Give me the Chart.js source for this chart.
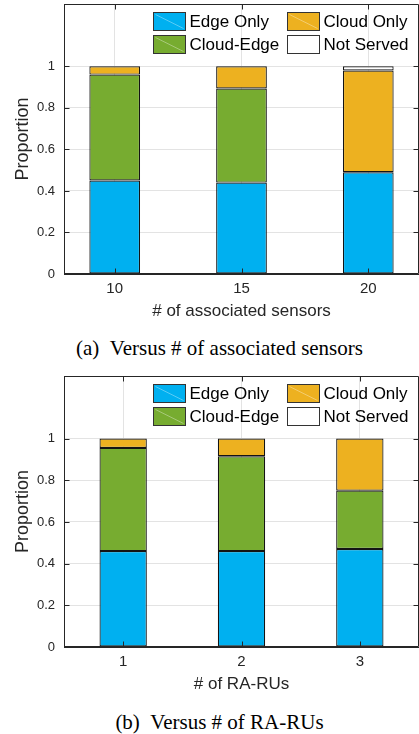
<!DOCTYPE html>
<html><head><meta charset="utf-8">
<script src="https://cdn.jsdelivr.net/npm/chart.js@4"></script>
<style>
html,body{margin:0;padding:0;background:#fff;overflow:hidden;width:419px;height:734px}
canvas{position:absolute;left:0}
#ca{top:0}
#cb{top:370px}
.cap{position:absolute;left:0;width:439px;text-align:center;font-family:"Liberation Serif","Times New Roman",serif;font-size:21px;line-height:24px;color:#000;white-space:nowrap}
</style></head><body>
<canvas id="ca" width="419" height="330"></canvas>
<canvas id="cb" width="419" height="330"></canvas>
<div class="cap" style="top:336px">(a)&ensp;Versus # of associated sensors</div>
<div class="cap" style="top:710px">(b)&ensp;Versus # of RA-RUs</div>
<script>
const seriesNames = ['Edge Only', 'Cloud-Edge', 'Cloud Only', 'Not Served'];
const seriesColors = ['#00B0F0', '#77AC30', '#EDB120', '#FFFFFF'];
const legendOrder = [0, 2, 1, 3];

const sensorLabels = ['10', '15', '20'];
const edgeA = [0.45, 0.44, 0.49];
const cloudEdgeA = [0.51, 0.453, 0.0];
const cloudA = [0.04, 0.107, 0.49];
const notServedA = [0, 0, 0.02];

const ruLabels = ['1', '2', '3'];
const edgeB = [0.46, 0.46, 0.47];
const cloudEdgeB = [0.495, 0.455, 0.28];
const cloudB = [0.045, 0.085, 0.25];
const notServedB = [0, 0, 0];

const yTicks = [0, 0.2, 0.4, 0.6, 0.8, 1];
const yMax = 1.3;

const AXIS = '#262626';
const GRID = '#e3e3e3';
const SANS = '"Liberation Sans", Arial, Helvetica, sans-serif';

const boxPlugin = {
  id: 'boxLegend',
  afterDraw(chart) {
    const {ctx, chartArea: a, scales: {x, y}} = chart;
    ctx.save();
    ctx.strokeStyle = AXIS;
    ctx.lineWidth = 1;
    const L = Math.round(a.left) + 0.5, R = Math.round(a.right) - 0.5;
    const T = Math.round(a.top) + 0.5, B = Math.round(a.bottom) - 0.5;
    ctx.beginPath();
    ctx.rect(L, T, R - L, B - T);
    x.ticks.forEach((t, i) => {
      const px = Math.round(x.getPixelForTick(i)) + 0.5;
      ctx.moveTo(px, B); ctx.lineTo(px, B - 5);
      ctx.moveTo(px, T); ctx.lineTo(px, T + 5);
    });
    y.ticks.forEach((t, i) => {
      const py = Math.round(y.getPixelForTick(i)) + 0.5;
      ctx.moveTo(L, py); ctx.lineTo(L + 5, py);
      ctx.moveTo(R, py); ctx.lineTo(R - 5, py);
    });
    ctx.stroke();

    // legend (2 x 2 grid)
    const ds = chart.data.datasets;
    const colX = [a.left + 89, a.left + 223];
    const rowY = [a.top + 8, a.top + 31];
    const sw = 32, sh = 18;
    ctx.font = '17px ' + SANS;
    ctx.textBaseline = 'middle';
    ctx.textAlign = 'left';
    legendOrder.forEach((di, k) => {
      const cx = Math.round(colX[k % 2]) + 0.5, cy = Math.round(rowY[Math.floor(k / 2)]) + 0.5;
      ctx.fillStyle = ds[di].backgroundColor;
      ctx.fillRect(cx, cy, sw, sh);
      if (di !== 3) {
        ctx.strokeStyle = 'rgba(255,255,255,0.35)';
        ctx.beginPath(); ctx.moveTo(cx + 2, cy + 2); ctx.lineTo(cx + sw - 2, cy + sh - 2); ctx.stroke();
      }
      ctx.strokeStyle = '#333333';
      ctx.strokeRect(cx, cy, sw, sh);
      ctx.fillStyle = '#000';
      ctx.fillText(ds[di].label, cx + sw + 4, cy + sh / 2 + 1);
    });
    ctx.restore();
  }
};

function makeChart(id, labels, series, xMin, xMax, xTitle, padTop, xHeight, xTitlePad) {
  const datasets = series.map((vals, si) => ({
    label: seriesNames[si],
    data: vals.map((v, i) => ({x: i + 1, y: v})),
    backgroundColor: seriesColors[si],
    borderColor: '#141414',
    borderWidth: 1.2,
    borderSkipped: false,
    barPercentage: 0.4,
    categoryPercentage: 1.0
  }));
  return new Chart(document.getElementById(id), {
    type: 'bar',
    data: {datasets},
    plugins: [boxPlugin],
    options: {
      responsive: false,
      animation: false,
      devicePixelRatio: 1,
      layout: {padding: {top: padTop, left: 0, right: 0, bottom: 0}},
      plugins: {legend: {display: false}, tooltip: {enabled: false}, title: {display: false}},
      scales: {
        x: {
          type: 'linear', stacked: true, min: xMin, max: xMax, offset: false,
          afterBuildTicks: s => { s.ticks = labels.map((l, i) => ({value: i + 1})); },
          afterFit: s => { s.height = xHeight; s.paddingLeft = 0; s.paddingRight = 0; },
          grid: {color: GRID, drawTicks: false, lineWidth: 1, offset: false},
          border: {display: true, color: AXIS},
          ticks: {color: AXIS, font: {family: SANS, size: 15}, padding: 6,
                  callback: v => labels[Math.round(v) - 1]},
          title: {display: true, text: xTitle, color: AXIS, font: {family: SANS, size: 17},
                  padding: {top: 0, bottom: xTitlePad}}
        },
        y: {
          stacked: true, min: 0, max: yMax,
          afterBuildTicks: s => { s.ticks = yTicks.map(v => ({value: v})); },
          afterFit: s => { s.width = 64; s.paddingTop = 0; s.paddingBottom = 0; },
          grid: {color: GRID, drawTicks: false, lineWidth: 1},
          border: {display: true, color: AXIS},
          ticks: {color: AXIS, font: {family: SANS, size: 13}, padding: 9,
                  callback: v => String(+(+v).toFixed(1))},
          title: {display: true, text: 'Proportion', color: AXIS, font: {family: SANS, size: 18},
                  padding: {top: 12, bottom: 0}}
        }
      }
    }
  });
}

makeChart('ca', sensorLabels, [edgeA, cloudEdgeA, cloudA, notServedA], 0.6, 3.4,
          '# of associated sensors', 4, 56, 8);
makeChart('cb', ruLabels, [edgeB, cloudEdgeB, cloudB, notServedB], 0.5, 3.5,
          '# of RA-RUs', 6, 53, 5);
</script>
</body></html>
